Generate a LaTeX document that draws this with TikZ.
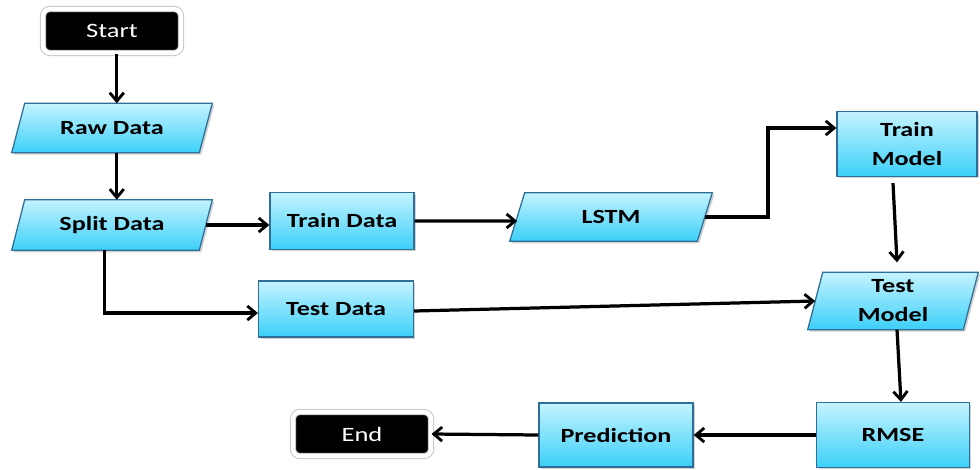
\documentclass[tikz,border=0pt]{standalone}
\usepackage{fontspec}
\setmainfont{Carlito}[FakeStretch=1.3]
\usetikzlibrary{arrows.meta,shadows,calc,backgrounds}
\definecolor{cyTop}{HTML}{C4F3FF}
\definecolor{cyBot}{HTML}{3CD0F8}
\definecolor{bdr}{HTML}{2F6E98}
\newcommand{\paraShape}[2]{%
  \begin{scope}[on background layer]
  \path[pshape] ($(#1.south west)+(-#2,0)$) -- ($(#1.north west)+(#2,0)$)
     -- ($(#1.north east)+(#2,0)$) -- ($(#1.south east)+(-#2,0)$) -- cycle;
  \end{scope}}
\begin{document}
\begin{tikzpicture}[x=0.025cm,y=-0.025cm,
  boxfill/.style={draw=bdr, line width=0.9pt, top color=cyTop, bottom color=cyBot,
    drop shadow={shadow xshift=0.05cm, shadow yshift=-0.05cm, opacity=0.35}},
  boxtext/.style={inner sep=0pt, align=center, font=\fontsize{14.3}{20.6}\selectfont\bfseries},
  rbox/.style={boxfill, boxtext, rectangle},
  ptext/.style={boxtext, rectangle},
  pshape/.style={boxfill},
  term/.style={rectangle, rounded corners=5pt, fill=black, draw=gray!45, double=white,
    double distance=3pt, line width=0.7pt, text=white, inner sep=0pt,
    minimum width=3.45cm, minimum height=1.1cm, font=\fontsize{14.5}{17}\selectfont},
  arr/.style={-{Straight Barb[length=6pt,width=10pt,line width=2pt]}, line width=2.3pt, black}]
\useasboundingbox (0,0) rectangle (980,469);

\node[term] (start) at (112,31) {Start};
\node[ptext, minimum width=4.675cm, minimum height=1.22cm] (raw) at (112,128) {Raw Data};
\paraShape{raw}{6.5}
\node[ptext, minimum width=4.675cm, minimum height=1.25cm] (split) at (112,225) {Split Data};
\paraShape{split}{6.5}
\node[rbox, minimum width=3.6cm, minimum height=1.42cm] (trd) at (342,221) {Train Data};
\node[ptext, minimum width=4.675cm, minimum height=1.2cm] (lstm) at (611,217) {LSTM};
\paraShape{lstm}{7.5}
\node[rbox, minimum width=3.87cm, minimum height=1.4cm] (ted) at (336,309) {Test Data};
\node[rbox, minimum width=3.5cm, minimum height=1.62cm] (trm) at (907,144) {Train\\Model};
\node[ptext, minimum width=3.875cm, minimum height=1.42cm] (tem) at (893,301) {Test\\Model};
\paraShape{tem}{7.5}
\node[rbox, minimum width=3.82cm, minimum height=1.62cm] (rmse) at (893,435) {RMSE};
\node[rbox, minimum width=3.85cm, minimum height=1.6cm] (pred) at (616,435) {Prediction};
\node[term] (end) at (362,434) {End};
\coordinate (bend) at (768,128);

\draw[arr] ([xshift=0.12cm]start.south) -- ([xshift=0.12cm]raw.north);
\draw[arr] ([xshift=0.12cm]raw.south) -- ([xshift=0.12cm]split.north);
\draw[arr] (split.east) -- (split.east -| trd.west);
\draw[arr] (trd.east) -- ([yshift=-0.1cm]lstm.west);
\draw[arr] (lstm.east) -| (bend) -- (bend -| trm.west);
\draw[arr] ([xshift=-0.18cm]split.south) |- ([yshift=-0.1cm]ted.west);
\draw[arr] ([yshift=-0.05cm]ted.east) -- (tem.west);
\draw[arr] ($(trm.south)+(-14,6)$) -- ($(tem.north)+(4,-10)$);
\draw[arr] ([xshift=0.1cm]tem.south) -- ([xshift=0.2cm]rmse.north);
\draw[arr] (rmse.west) -- (pred.east);
\draw[arr] (pred.west) -- (end.east);
\end{tikzpicture}
\end{document}
